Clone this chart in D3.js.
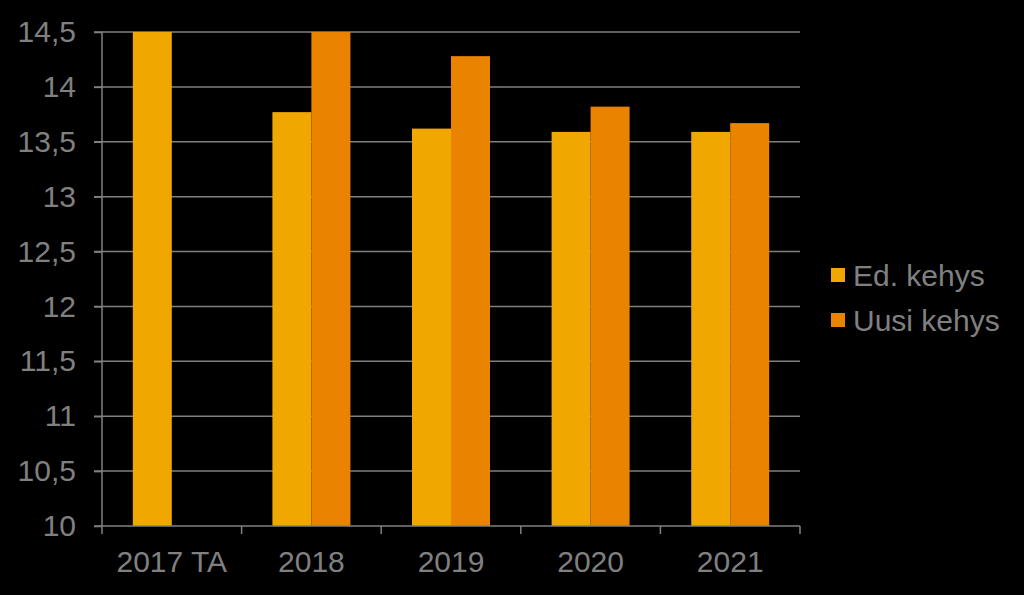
<head>
	<script src="https://d3js.org/d3.v7.min.js"></script>
	<style type="text/css">
		body { margin: 0; background: #000; }
		text { font-family: "Liberation Sans", Arial, sans-serif; fill: #808080; }
	</style>
</head>
<body>
	<script type="text/javascript">
		const categories = ['2017 TA', '2018', '2019', '2020', '2021']
		const seriesNames = ['Ed. kehys', 'Uusi kehys']
		const edKehys = [14.5, 13.77, 13.62, 13.59, 13.59]
		const uusiKehys = [null, 14.5, 14.28, 13.82, 13.67]
		const yTicks = [10, 10.5, 11, 11.5, 12, 12.5, 13, 13.5, 14, 14.5]
		const colors = ['#f0a800', '#e98300']

		const width = 1024, height = 595
		const plot = {left: 102, right: 800, top: 32, bottom: 526}

		const svg = d3.select('body').append('svg')
			.attr('width', width)
			.attr('height', height)
			.style('background', '#000')

		const x0 = d3.scaleBand().domain(categories).range([plot.left, plot.right]).padding(0)
		const x1 = d3.scaleBand().domain(seriesNames).range([0, x0.bandwidth()])
			.paddingInner(0).paddingOuter(0.79)
		const y = d3.scaleLinear().domain([10, 14.5]).range([plot.bottom, plot.top])

		// gridlines
		svg.append('g').selectAll('line')
			.data(yTicks.filter(t => t > 10))
			.enter().append('line')
			.attr('x1', plot.left - 8).attr('x2', plot.right)
			.attr('y1', d => y(d)).attr('y2', d => y(d))
			.style('stroke', '#808080').style('stroke-width', 1.5)

		const rows = categories.map((c, i) => ({cat: c, vals: [edKehys[i], uusiKehys[i]]}))

		const groups = svg.append('g').selectAll('g')
			.data(rows).enter().append('g')
			.attr('transform', d => 'translate(' + x0(d.cat) + ',0)')

		groups.selectAll('rect')
			.data(d => d.vals.map((v, j) => ({name: seriesNames[j], v: v, j: j})).filter(e => e.v != null))
			.enter().append('rect')
			.attr('x', d => x1(d.name))
			.attr('width', x1.bandwidth())
			.attr('y', d => y(d.v))
			.attr('height', d => y(10) - y(d.v))
			.style('fill', d => colors[d.j])

		// axes
		const yAxis = d3.axisLeft(y).tickValues(yTicks).tickSize(8).tickPadding(18)
			.tickFormat(d => String(d).replace('.', ','))
		const gy = svg.append('g').attr('transform', 'translate(' + plot.left + ',0)').call(yAxis)
		gy.select('.domain').remove()
		gy.selectAll('line').style('stroke', '#808080').style('stroke-width', 1.5)
		gy.selectAll('text').style('font-size', '30px').style('fill', '#808080')
		svg.append('line').attr('x1', plot.left).attr('x2', plot.left)
			.attr('y1', plot.top).attr('y2', plot.bottom + 8)
			.style('stroke', '#808080').style('stroke-width', 1.5)

		const xAxis = d3.axisBottom(x0).tickSize(0).tickPadding(25)
		const gx = svg.append('g').attr('transform', 'translate(0,' + plot.bottom + ')').call(xAxis)
		gx.select('.domain').remove()
		gx.selectAll('text').style('font-size', '30px').style('fill', '#808080')
		svg.append('line').attr('x1', plot.left - 8).attr('x2', plot.right)
			.attr('y1', plot.bottom).attr('y2', plot.bottom)
			.style('stroke', '#808080').style('stroke-width', 1.5)
		svg.append('g').selectAll('line')
			.data(categories.slice(1).concat(['end']))
			.enter().append('line')
			.attr('x1', (d, i) => plot.left + (i + 1) * x0.step())
			.attr('x2', (d, i) => plot.left + (i + 1) * x0.step())
			.attr('y1', plot.bottom).attr('y2', plot.bottom + 8)
			.style('stroke', '#808080').style('stroke-width', 1.5)

		// legend
		const legend = svg.append('g').selectAll('g')
			.data(seriesNames).enter().append('g')
			.attr('transform', (d, i) => 'translate(831,' + (268 + i * 45) + ')')
		legend.append('rect').attr('width', 14).attr('height', 14)
			.style('fill', (d, i) => colors[i])
		legend.append('text').attr('x', 22).attr('y', 18)
			.style('font-size', '30px').text(d => d)
	</script>
</body>
